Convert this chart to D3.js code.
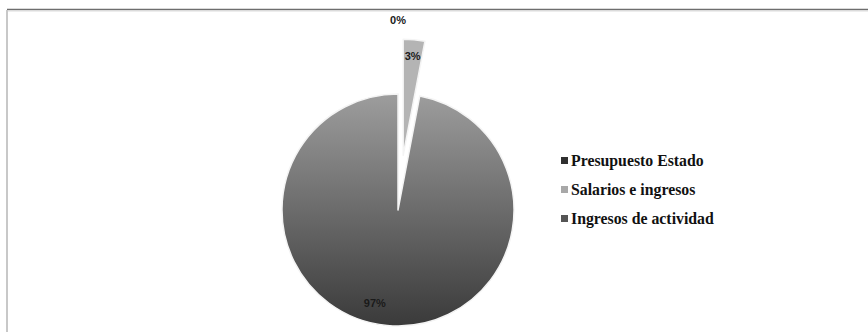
<!DOCTYPE html>
<html>
<meta charset="utf-8">
<head>
<style>
    body { margin: 0; background: white; }
    .label_pct {
        font-family: "Liberation Sans", Arial, sans-serif;
        font-weight: bold;
        font-size: 11px;
        fill: #1a1a1a;
        text-anchor: middle;
    }
    .legend_text {
        font-family: "Liberation Serif", "Times New Roman", serif;
        font-weight: bold;
        font-size: 15.8px;
        fill: #111;
    }
</style>
</head>
<body>
<div id="viz"></div>
<script src="https://cdn.jsdelivr.net/npm/d3@7"></script>
<script>
const width = 868;
const height = 332;

// data
const categories = ["Presupuesto Estado", "Salarios e ingresos", "Ingresos de actividad"];
const values = [0, 3, 97];
const slice_colours = ["#2e2e2e", "#b4b4b4", "url(#grad_main)"];
const legend_colours = ["#303030", "#a8a8a8", "#555555"];

const cx = 398, cy = 210, radius = 116;
const explode = [0, 55, 0];
const label_radius = [190, 100, 96];

const svg = d3.select("#viz")
    .append("svg")
    .attr("width", width)
    .attr("height", height);

const defs = svg.append("defs");
const grad = defs.append("linearGradient")
    .attr("id", "grad_main")
    .attr("x1", 0).attr("y1", 0).attr("x2", 0).attr("y2", 1);
grad.append("stop").attr("offset", "0%").attr("stop-color", "#9d9d9d");
grad.append("stop").attr("offset", "100%").attr("stop-color", "#3a3a3a");

// frame
svg.append("line")
    .attr("x1", 7).attr("x2", width).attr("y1", 9.5).attr("y2", 9.5)
    .attr("stroke", "#6e6e6e").attr("stroke-width", 1.5);
svg.append("line")
    .attr("x1", 7).attr("x2", width).attr("y1", 11).attr("y2", 11)
    .attr("stroke", "#dcdcdc").attr("stroke-width", 1);
svg.append("line")
    .attr("x1", 7).attr("x2", 7).attr("y1", 10).attr("y2", height)
    .attr("stroke", "#c8c8c8").attr("stroke-width", 2);

const pie = d3.pie().sort(null).value(d => d)(values);
const arc = d3.arc().innerRadius(0).outerRadius(radius);

const g = svg.append("g").attr("transform", `translate(${cx},${cy})`);

function mid(d) { return (d.startAngle + d.endAngle) / 2; }

g.selectAll(".slice")
    .data(pie)
    .enter()
    .append("path")
    .attr("class", "slice")
    .attr("d", arc)
    .attr("fill", (d, i) => slice_colours[i])
    .attr("stroke", "#f4f4f4")
    .attr("stroke-width", 1.5)
    .attr("stroke-linejoin", "round")
    .attr("transform", (d, i) => {
        const a = mid(d);
        return `translate(${explode[i] * Math.sin(a)},${-explode[i] * Math.cos(a)})`;
    });

g.selectAll(".label_pct")
    .data(pie)
    .enter()
    .append("text")
    .attr("class", "label_pct")
    .attr("x", (d, i) => {
        const a = i === 2 ? mid(d) + 0.15 : mid(d);
        return (explode[i] + label_radius[i]) * Math.sin(a);
    })
    .attr("y", (d, i) => {
        const a = i === 2 ? mid(d) + 0.15 : mid(d);
        return -(explode[i] + label_radius[i]) * Math.cos(a);
    })
    .attr("dy", ".35em")
    .text((d, i) => Math.round(values[i] / d3.sum(values) * 100) + "%");

// legend
const legend = svg.append("g").attr("transform", "translate(561,160)");
const rows = legend.selectAll(".legend_row")
    .data(categories)
    .enter()
    .append("g")
    .attr("class", "legend_row")
    .attr("transform", (d, i) => `translate(0,${i * 29})`);

rows.append("rect")
    .attr("x", 0).attr("y", -3)
    .attr("width", 7).attr("height", 7)
    .attr("fill", (d, i) => legend_colours[i]);

rows.append("text")
    .attr("class", "legend_text")
    .attr("x", 10)
    .attr("dy", ".35em")
    .text(d => d);
</script>
</body>
</html>
